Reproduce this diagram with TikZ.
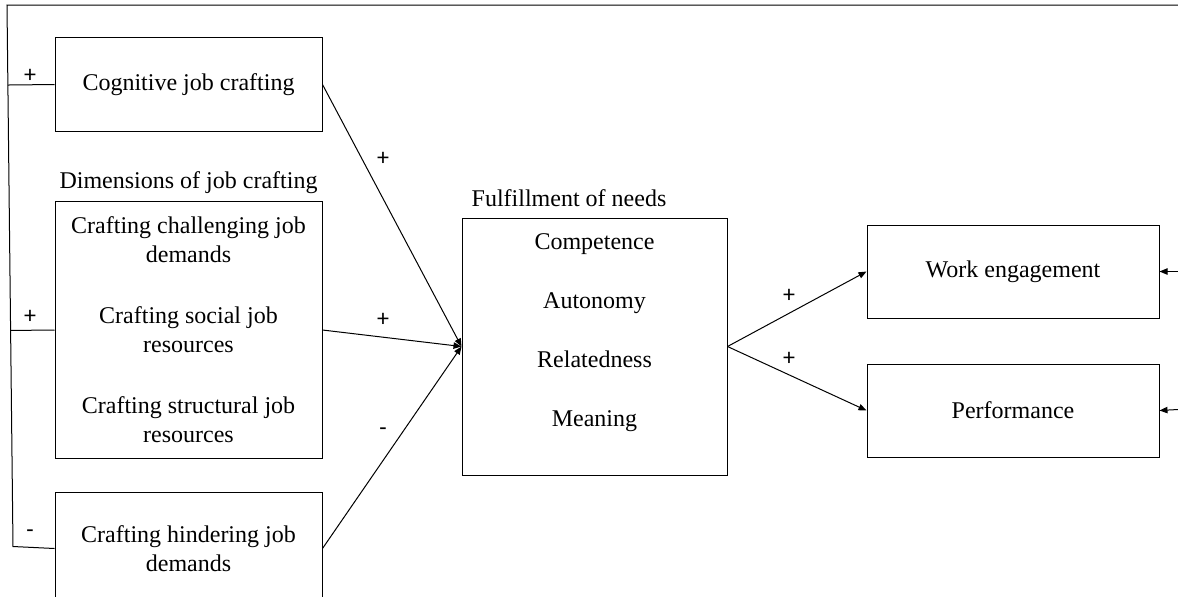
\documentclass[tikz,border=0pt]{standalone}
\usepackage{fontspec}
\setmainfont{Liberation Serif}
\newfontfamily\signfont{Carlito}
\usetikzlibrary{calc,positioning,arrows.meta}
\tikzset{
    factor/.style={draw, rectangle, minimum width=133.5pt, inner sep=0pt, align=center, font=\fontsize{12}{14.5}\selectfont},
    outcome/.style={draw, rectangle, minimum width=146pt, minimum height=46.5pt, inner sep=0pt, font=\fontsize{12}{14.5}\selectfont},
    sign/.style={font=\signfont\fontsize{12}{14}\selectfont, inner sep=0pt},
    effect/.style={-{Triangle[length=4pt,width=3.2pt]}},
    node distance=16.5pt
}

\begin{document}
\begin{tikzpicture}[x=0.5pt, y=-0.5pt, line width=0.5pt, every label/.style={font=\fontsize{12}{14.5}\selectfont}]
	\useasboundingbox (0,0) rectangle (1178,596);
	\clip (0,0) rectangle (1178,596);

	\node[factor, minimum height=47pt] (cog) at (188.5,84.5) {Cognitive job crafting};
	\node[factor, minimum height=128.5pt, below = 34.5pt of cog, label={above:Dimensions of job crafting}] (dims) {Crafting challenging job\\ demands\\[16pt] Crafting social job\\ resources\\[16pt] Crafting structural job\\ resources};
	\node[factor, minimum height=56pt, below = of dims] (hind) {Crafting hindering job\\ demands};

	\node[factor, minimum width=132.5pt, minimum height=128.5pt, label={[xshift=-12.75pt, label distance=2pt]above:Fulfillment of needs}] (ful) at (594.5,346.5) {};
	\node[font=\fontsize{12}{29.5}\selectfont, align=center] (needs) at (594.5,333) {Competence\\ Autonomy\\ Relatedness\\ Meaning};

	\node[outcome] (we) at (1013,271.5) {Work engagement};
	\node[outcome, below = 22.5pt of we] (perf) {Performance};

	% feedback loop
	\coordinate (fbTop) at (7,5);
	\coordinate (fbBot) at (13,546.5);
	\coordinate (fbEnd) at (1178,5);
	\draw (fbEnd) -- (fbTop) -- (fbBot) -- (hind.west);
	\draw (cog.west) -- ($(fbTop)!(cog.west)!(fbBot)$);
	\draw (dims.west) -- ($(fbTop)!(dims.west)!(fbBot)$);

	% effects
	\draw[effect] (cog.east) -- (ful.west);
	\draw[effect] (dims.east) -- (ful.west);
	\draw[effect] (hind.east) -- (ful.west);
	\draw[effect] (ful.east) -- (we.west);
	\draw[effect] (ful.east) -- (perf.west);

	\coordinate (weIn) at (1178,271.5);
	\coordinate (perfIn) at (1178,409.5);
	\draw[effect] (weIn) -- (we.east);
	\draw[effect] (perfIn) -- (perf.east);

	\node[sign] (sCogL) at (30,76) {+};
	\node[sign] (sDimsL) at (30,317) {+};
	\node[sign] (sHindL) at (30,534) {-};
	\node[sign] (sCog) at (383,159) {+};
	\node[sign] (sDims) at (383,320) {+};
	\node[sign] (sHind) at (383,432) {-};
	\node[sign] (sWe) at (789,296) {+};
	\node[sign] (sPerf) at (789,359) {+};
\end{tikzpicture}
\end{document}
